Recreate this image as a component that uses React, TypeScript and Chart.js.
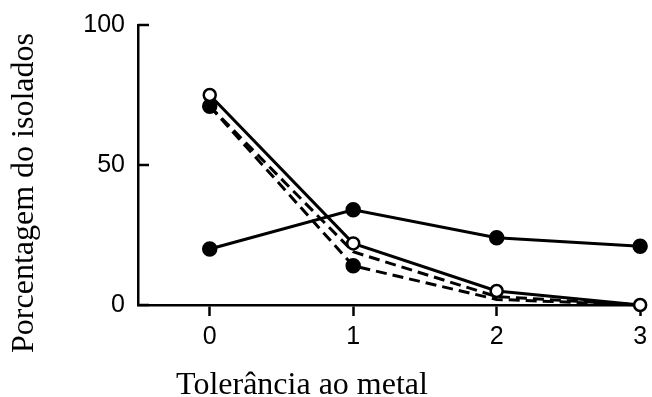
import React, { useEffect, useRef } from "react";
import { Chart, registerables } from "chart.js";

Chart.register(...registerables);

const xValues = [0, 1, 2, 3];
const seriesA = [20, 34, 24, 21];
const seriesB = [75, 22, 5, 0];
const seriesC = [71, 19, 3, 0];
const seriesD = [71, 14, 2, 0];
const xTickValues = [0, 1, 2, 3];
const yTickValues = [0, 50, 100];
const xTitle = "Tolerância ao metal";
const yTitle = "Porcentagem do isolados";

const toPoints = (arr: number[]) => arr.map((v, i) => ({ x: xValues[i], y: v }));

const decorPlugin = {
  id: "decor",
  afterDraw(chart: any) {
    const ctx = chart.ctx;
    const area = chart.chartArea;
    const ys = chart.scales.y;
    ctx.save();
    ctx.strokeStyle = "#000";
    ctx.lineWidth = 2.5;
    yTickValues.forEach((v) => {
      const py = ys.getPixelForValue(v);
      ctx.beginPath();
      ctx.moveTo(area.left, py);
      ctx.lineTo(area.left + 11, py);
      ctx.stroke();
    });
    ctx.fillStyle = "#000";
    ctx.font = '32px "Liberation Serif", serif';
    ctx.textAlign = "center";
    ctx.textBaseline = "alphabetic";
    ctx.fillText(xTitle, 302, 394);
    ctx.translate(33, 193);
    ctx.rotate(-Math.PI / 2);
    ctx.fillText(yTitle, 0, 0);
    ctx.restore();
  },
};

export default function App() {
  const ref = useRef<HTMLCanvasElement>(null);
  useEffect(() => {
    if (!ref.current) return;
    const common = {
      borderColor: "#000",
      borderWidth: 3,
      pointBorderColor: "#000",
      pointBorderWidth: 2.5,
      clip: false as any,
      tension: 0,
    };
    const chart = new Chart(ref.current, {
      type: "line",
      data: {
        datasets: [
          {
            ...common,
            data: toPoints(seriesB),
            pointBackgroundColor: "#fff",
            pointRadius: 6,
          },
          {
            ...common,
            data: toPoints(seriesA),
            pointBackgroundColor: "#000",
            pointRadius: 6.5,
          },
          {
            ...common,
            data: toPoints(seriesC),
            borderDash: [11, 6],
            pointBackgroundColor: "#000",
            pointRadius: 0,
          },
          {
            ...common,
            data: toPoints(seriesD),
            borderDash: [11, 6],
            pointBackgroundColor: "#000",
            pointRadius: [6.5, 6.5, 0, 0],
          },
        ] as any,
      },
      options: {
        animation: false,
        responsive: false,
        maintainAspectRatio: false,
        layout: { padding: { left: 0, top: 25, right: 5, bottom: 0 } },
        plugins: { legend: { display: false }, tooltip: { enabled: false } },
        scales: {
          x: {
            type: "linear",
            min: -0.5,
            max: 3.02,
            afterBuildTicks: (s: any) => {
              s.ticks = xTickValues.map((v) => ({ value: v }));
            },
            afterFit: (s: any) => {
              s.height = 92;
              s.paddingLeft = 0;
              s.paddingRight = 0;
            },
            grid: {
              drawOnChartArea: false,
              drawTicks: true,
              tickLength: 11,
              tickWidth: 2.5,
              tickColor: "#000",
            },
            border: { color: "#000", width: 2.5 },
            ticks: {
              color: "#000",
              font: { family: '"Liberation Sans", Arial, sans-serif', size: 25 },
              padding: 6,
            },
          },
          y: {
            type: "linear",
            min: 0,
            max: 100,
            afterBuildTicks: (s: any) => {
              s.ticks = yTickValues.map((v) => ({ value: v }));
            },
            afterFit: (s: any) => {
              s.width = 138;
              s.paddingTop = 0;
              s.paddingBottom = 0;
            },
            grid: { drawOnChartArea: false, drawTicks: false },
            border: { color: "#000", width: 2.5 },
            ticks: {
              color: "#000",
              font: { family: '"Liberation Sans", Arial, sans-serif', size: 25 },
              padding: 13,
            },
          },
        },
      },
      plugins: [decorPlugin],
    });
    return () => chart.destroy();
  }, []);
  return (
    <div style={{ position: "fixed", left: 0, top: 0, width: 652, height: 397, background: "#fff" }}>
      <canvas ref={ref} width={652} height={397} style={{ width: 652, height: 397 }} />
    </div>
  );
}
